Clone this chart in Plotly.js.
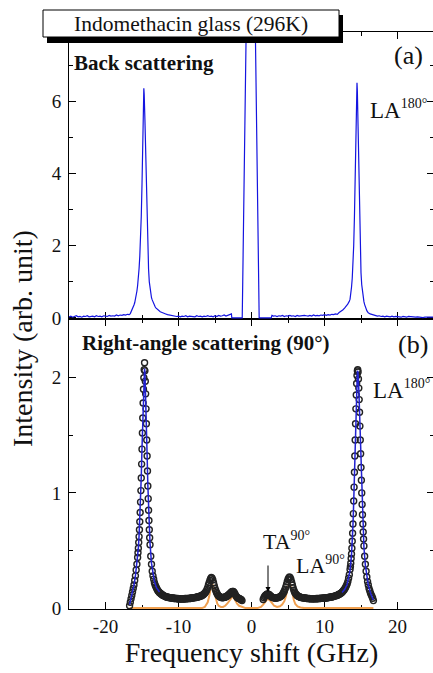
<!DOCTYPE html>
<html>
<head>
<meta charset="utf-8">
<script src="https://cdn.plot.ly/plotly-3.0.1.min.js"></script>
<style>
html,body{margin:0;padding:0;overflow:hidden;background:#fff;}
#chart{width:435px;height:673px;}
</style>
</head>
<body>
<div id="chart"></div>
<script>
// ---------- (a) Back scattering spectrum ----------
const xBack = [
-25,-24.75,-24.5,-24.25,-24,-23.75,-23.5,-23.25,-23,-22.75,-22.5,-22.25,-22,-21.75,-21.5,-21.25,-21,-20.75,-20.5,-20.25,-20,-19.75,-19.5,-19.25,-19,-18.75,-18.5,-18.25,-18,-17.75,-17.5,-17.25,-17,-16.75,
-16.6,-16.5,-16.4,-16.3,-16.2,-16.1,-16.0,-15.9,-15.8,-15.7,-15.6,-15.5,-15.4,-15.3,-15.2,-15.1,-15.0,-14.9,-14.8,-14.75,-14.7,-14.6,-14.5,-14.4,-14.3,-14.2,-14.1,-14.0,-13.9,-13.8,-13.7,-13.6,-13.5,-13.4,-13.3,-13.2,-13.1,-13.0,-12.9,-12.75,-12.5,-12.25,-12.0,-11.75,-11.5,-11.25,
-11,-10.75,-10.5,-10.25,-10,-9.75,-9.5,-9.25,-9,-8.75,-8.5,-8.25,-8,-7.75,-7.5,-7.25,-7,-6.75,-6.5,-6.25,-6,-5.75,-5.5,-5.25,-5,-4.75,-4.5,-4.25,-4,-3.75,-3.5,-3.25,-3,-2.75,
-2.7,-1.35,-1.27,-1.2,-1.1,-1.0,-0.9,-0.8,-0.7,-0.6,-0.5,0.3,0.4,0.5,0.6,0.7,0.8,0.9,1.0,1.05,2.7,2.8,
3.0,3.25,3.5,3.75,4,4.25,4.5,4.75,5,5.25,5.5,5.75,6,6.25,6.5,6.75,7,7.25,7.5,7.75,8,8.25,8.5,8.75,9,9.25,9.5,9.75,10,10.25,10.5,10.75,11,11.25,11.5,11.75,12,12.25,12.5,12.75,
12.9,13.0,13.1,13.2,13.3,13.4,13.5,13.6,13.7,13.8,13.9,14.0,14.1,14.2,14.3,14.4,14.45,14.5,14.6,14.7,14.8,14.9,15.0,15.1,15.2,15.3,15.4,15.5,15.6,15.7,15.8,15.9,16.0,16.25,16.5,16.75,
17,17.25,17.5,17.75,18,18.25,18.5,18.75,19,19.25,19.5,19.75,20,20.25,20.5,20.75,21,21.25,21.5,21.75,22,22.25,22.5,22.75,23,23.25,23.5,23.75,24,24.25,24.5,24.75,25
];
const yBack = [
0.03,0.05,0.02,0.04,0.06,0.03,0.04,0.02,0.05,0.04,0.06,0.03,0.04,0.05,0.03,0.06,0.04,0.05,0.03,0.06,0.05,0.04,0.07,0.05,0.06,0.05,0.08,0.06,0.08,0.07,0.09,0.08,0.1,0.09,
0.12,0.16,0.22,0.27,0.31,0.36,0.42,0.5,0.6,0.74,0.9,1.1,1.37,1.72,2.18,2.82,3.7,4.8,5.9,6.37,6.2,5.5,4.5,3.5,2.6,1.85,1.35,1.0,0.78,0.64,0.56,0.5,0.44,0.39,0.35,0.31,0.28,0.26,0.24,0.21,0.17,0.15,0.12,0.11,0.09,0.08,
0.07,0.05,0.06,0.04,0.05,0.03,0.05,0.04,0.06,0.03,0.05,0.04,0.05,0.03,0.06,0.04,0.05,0.03,0.05,0.04,0.06,0.04,0.05,0.03,0.06,0.04,0.07,0.05,0.06,0.08,0.05,0.07,0.09,0.11,
0.0,0.0,0.0,1.0,2.5,4.0,5.5,6.9,8.4,9.9,11.4,11.4,9.9,8.8,7.0,5.3,3.5,1.8,0.05,0.0,0.0,0.07,
0.05,0.06,0.04,0.06,0.05,0.07,0.04,0.06,0.05,0.07,0.05,0.06,0.04,0.07,0.05,0.06,0.05,0.07,0.06,0.05,0.07,0.05,0.08,0.06,0.07,0.06,0.08,0.07,0.09,0.07,0.09,0.08,0.1,0.09,0.11,0.1,0.15,0.18,0.22,0.27,
0.3,0.33,0.36,0.39,0.42,0.46,0.52,0.65,0.85,1.1,1.45,2.0,2.8,3.8,5.0,6.1,6.52,6.3,5.3,4.0,2.8,1.85,1.25,0.92,0.7,0.55,0.45,0.37,0.3,0.25,0.2,0.17,0.14,0.11,0.09,0.07,
0.06,0.05,0.06,0.04,0.05,0.03,0.05,0.04,0.03,0.05,0.03,0.04,0.03,0.04,0.02,0.04,0.03,0.02,0.04,0.03,0.02,0.03,0.02,0.03,0.02,0.03,0.01,0.02,0.03,0.02,0.02,0.03,0.02
];

// ---------- (b) Right-angle scattering: measured points ----------
const x90 = [
-16.7,-16.6,-16.5,-16.4,-16.3,-16.2,-16.1,-16.0,-15.9,-15.8,-15.7,-15.6,-15.55,-15.5,-15.45,-15.4,-15.35,-15.3,-15.25,-15.2,-15.15,-15.1,-15.05,-15.0,-14.95,-14.9,-14.85,-14.8,-14.75,-14.7,-14.65,-14.6,-14.55,-14.5,-14.45,-14.4,-14.35,-14.3,-14.25,-14.2,-14.15,-14.1,-14.05,-14.0,-13.95,-13.9,-13.8,-13.7,-13.6,-13.5,-13.4,-13.3,-13.2,-13.1,-13.0,-12.9,-12.8,-12.7,-12.6,-12.5,-12.4,-12.3,-12.2,-12.1,-12.0,-11.9,-11.8,-11.7,-11.6,-11.5,-11.4,-11.3,-11.2,-11.1,-11.0,-10.9,-10.8,-10.7,-10.6,-10.5,-10.4,-10.3,-10.2,-10.1,-10.0,-9.9,-9.8,-9.7,-9.6,-9.5,-9.4,-9.3,-9.2,-9.1,-9.0,-8.9,-8.8,-8.7,-8.6,-8.5,-8.4,-8.3,-8.2,-8.1,-8.0,-7.9,-7.8,-7.7,-7.6,-7.5,-7.4,-7.3,-7.2,-7.1,-7.0,-6.9,-6.8,-6.7,-6.6,-6.5,-6.4,-6.3,-6.2,-6.1,-6.0,-5.9,-5.8,-5.7,-5.6,-5.5,-5.4,-5.3,-5.2,-5.1,-5.0,-4.9,-4.8,-4.7,-4.6,-4.5,-4.4,-4.3,-4.2,-4.1,-4.0,-3.9,-3.8,-3.7,-3.6,-3.5,-3.4,-3.3,-3.2,-3.1,-3.0,-2.9,-2.8,-2.7,-2.6,-2.5,-2.4,-2.3,-2.2,-2.1,-2.0,-1.9,-1.8,-1.7,-1.6,-1.5,-1.4,-1.3,
1.6,1.7,1.8,1.9,2.0,2.1,2.2,2.3,2.4,2.5,2.6,2.7,2.8,2.9,3.0,3.1,3.2,3.3,3.4,3.5,3.6,3.7,3.8,3.9,4.0,4.1,4.2,4.3,4.4,4.5,4.6,4.7,4.8,4.9,5.0,5.1,5.2,5.3,5.4,5.5,5.6,5.7,5.8,5.9,6.0,6.1,6.2,6.3,6.4,6.5,6.6,6.7,6.8,6.9,7.0,7.1,7.2,7.3,7.4,7.5,7.6,7.7,7.8,7.9,8.0,8.1,8.2,8.3,8.4,8.5,8.6,8.7,8.8,8.9,9.0,9.1,9.2,9.3,9.4,9.5,9.6,9.7,9.8,9.9,10.0,10.1,10.2,10.3,10.4,10.5,10.6,10.7,10.8,10.9,11.0,11.1,11.2,11.3,11.4,11.5,11.6,11.7,11.8,11.9,12.0,12.1,12.2,12.3,12.4,12.5,12.6,12.7,12.8,12.9,13.0,13.1,13.2,13.3,13.4,13.5,13.55,13.6,13.65,13.7,13.75,13.8,13.85,13.9,13.95,14.0,14.05,14.1,14.15,14.2,14.25,14.3,14.35,14.4,14.45,14.5,14.55,14.6,14.65,14.7,14.75,14.8,14.85,14.9,14.95,15.0,15.05,15.1,15.15,15.2,15.25,15.3,15.35,15.4,15.5,15.6,15.7,15.8,15.9,16.0,16.1,16.2,16.3,16.4,16.5,16.6,16.7
];
const y90 = [
0.02,0.05,0.08,0.11,0.14,0.17,0.2,0.24,0.28,0.33,0.38,0.44,0.48,0.52,0.57,0.62,0.68,0.75,0.83,0.92,1.02,1.13,1.25,1.38,1.52,1.65,1.78,1.9,2.0,2.07,2.13,2.06,1.97,1.86,1.73,1.6,1.46,1.32,1.19,1.06,0.95,0.85,0.76,0.68,0.61,0.55,0.45,0.38,0.32,0.28,0.25,0.22,0.2,0.185,0.172,0.16,0.148,0.142,0.134,0.13,0.122,0.12,0.113,0.11,0.106,0.104,0.1,0.099,0.095,0.096,0.092,0.093,0.089,0.09,0.087,0.088,0.085,0.087,0.083,0.085,0.082,0.084,0.081,0.083,0.079,0.082,0.078,0.081,0.079,0.082,0.078,0.081,0.079,0.083,0.08,0.083,0.081,0.084,0.082,0.085,0.083,0.087,0.085,0.089,0.087,0.091,0.089,0.093,0.092,0.096,0.095,0.099,0.098,0.103,0.103,0.108,0.108,0.115,0.116,0.124,0.128,0.138,0.147,0.162,0.178,0.2,0.22,0.24,0.255,0.265,0.26,0.245,0.22,0.195,0.17,0.152,0.135,0.124,0.112,0.106,0.1,0.097,0.093,0.092,0.09,0.092,0.091,0.095,0.094,0.1,0.1,0.107,0.11,0.118,0.122,0.13,0.136,0.142,0.145,0.144,0.138,0.127,0.115,0.104,0.095,0.09,0.085,0.083,0.08,0.077,0.072,0.065,
0.075,0.09,0.1,0.11,0.115,0.12,0.122,0.121,0.118,0.112,0.105,0.1,0.095,0.093,0.09,0.089,0.087,0.088,0.087,0.09,0.089,0.093,0.094,0.099,0.102,0.108,0.115,0.124,0.135,0.148,0.165,0.184,0.205,0.228,0.248,0.262,0.27,0.264,0.248,0.225,0.2,0.176,0.155,0.14,0.128,0.12,0.112,0.108,0.102,0.1,0.096,0.095,0.092,0.091,0.089,0.089,0.087,0.087,0.085,0.085,0.083,0.084,0.082,0.083,0.081,0.082,0.08,0.082,0.08,0.081,0.08,0.082,0.081,0.083,0.081,0.083,0.082,0.084,0.083,0.085,0.084,0.086,0.085,0.087,0.086,0.088,0.088,0.09,0.09,0.092,0.092,0.094,0.094,0.096,0.097,0.099,0.1,0.102,0.104,0.106,0.108,0.11,0.113,0.116,0.12,0.123,0.128,0.132,0.138,0.144,0.152,0.16,0.17,0.181,0.195,0.21,0.23,0.26,0.29,0.335,0.36,0.39,0.43,0.47,0.52,0.58,0.65,0.73,0.82,0.93,1.05,1.18,1.32,1.46,1.6,1.73,1.85,1.95,2.02,2.06,2.07,2.05,1.99,1.91,1.81,1.7,1.58,1.46,1.34,1.22,1.11,1.0,0.9,0.81,0.73,0.66,0.6,0.54,0.45,0.38,0.32,0.27,0.23,0.2,0.17,0.15,0.13,0.115,0.1,0.085,0.065
];

// ---------- (b) fitted LA180 curve ----------
const xFitL = [-16.7,-16.5,-16.3,-16.1,-15.9,-15.7,-15.5,-15.4,-15.3,-15.2,-15.1,-15.0,-14.9,-14.8,-14.7,-14.65,-14.6,-14.5,-14.4,-14.3,-14.2,-14.1,-14.0,-13.9,-13.7,-13.5,-13.3,-13.0,-12.6];
const yFitL = [0.03,0.08,0.14,0.2,0.28,0.38,0.52,0.63,0.76,0.93,1.14,1.39,1.66,1.9,2.05,2.08,2.05,1.87,1.6,1.33,1.07,0.86,0.69,0.56,0.39,0.29,0.23,0.175,0.14];
const xFitR = [12.4,12.8,13.1,13.3,13.5,13.7,13.8,13.9,14.0,14.1,14.2,14.3,14.4,14.5,14.55,14.6,14.7,14.8,14.9,15.0,15.1,15.2,15.3,15.4,15.6,15.8,16.0,16.3,16.7];
const yFitR = [0.135,0.165,0.205,0.255,0.33,0.46,0.57,0.72,0.92,1.17,1.45,1.72,1.94,2.05,2.06,2.04,1.9,1.69,1.45,1.21,0.99,0.8,0.65,0.53,0.37,0.27,0.2,0.13,0.07];

// ---------- (b) fitted TA90 / LA90 components ----------
const xComp = [-16.7,-6.8,-6.4,-6.2,-6.0,-5.8,-5.6,-5.45,-5.3,-5.1,-4.9,-4.7,-4.5,-4.2,-3.9,-3.6,-3.3,-3.0,-2.8,-2.6,-2.4,-2.2,-2.0,-1.7,-1.3,-0.8,0.8,1.3,1.6,1.9,2.2,2.5,2.8,3.1,3.5,3.9,4.2,4.5,4.7,4.9,5.1,5.25,5.4,5.6,5.8,6.0,6.3,6.7,7.2,16.7];
const yComp = [0,0,0.01,0.025,0.05,0.1,0.17,0.22,0.2,0.14,0.08,0.04,0.02,0.01,0.01,0.02,0.04,0.07,0.09,0.1,0.09,0.065,0.04,0.02,0.008,0,0,0.01,0.03,0.06,0.08,0.07,0.04,0.02,0.01,0.015,0.03,0.06,0.1,0.16,0.21,0.22,0.19,0.13,0.07,0.035,0.015,0.005,0,0];

// ---------- axis ticks ----------
const xTickVals = [-20,-10,0,10,20];
const xTickText = ['-20','-10','0','10','20'];
const yTopTicks = [0,2,4,6];
const yBotTicks = [0,1,2];

// ---------- geometry (pixels) ----------
const W = 435, H = 673, ML = 69, MR = 1, MT = 32, MB = 64;
const PW = W - ML - MR, PH = H - MT - MB;
const split = (H - MB - 319) / PH;
const px = v => (v - ML) / PW;
const py = v => (H - MB - v) / PH;

const serif = 'Liberation Serif, Times New Roman, serif';
const axisCommon = {
  showline: true, linecolor: '#000', linewidth: 1, mirror: 'ticks',
  ticks: 'inside', ticklen: 7, tickwidth: 1, tickcolor: '#000',
  showgrid: false, zeroline: false, layer: 'below traces',
  tickfont: {family: serif, size: 19, color: '#111'}
};

const traces = [
  {x: xBack, y: yBack, xaxis: 'x2', yaxis: 'y2', type: 'scatter', mode: 'lines',
   line: {color: '#1414e0', width: 1.2}, hoverinfo: 'skip'},
  {x: xComp, y: yComp, xaxis: 'x', yaxis: 'y', type: 'scatter', mode: 'lines',
   line: {color: '#f0a050', width: 2}, hoverinfo: 'skip'},
  {x: x90, y: y90, xaxis: 'x', yaxis: 'y', type: 'scatter', mode: 'markers',
   marker: {symbol: 'circle-open', size: 6, color: '#222', line: {width: 1.4}}, hoverinfo: 'skip'},
  {x: xFitL, y: yFitL, xaxis: 'x', yaxis: 'y', type: 'scatter', mode: 'lines',
   line: {color: '#2222d0', width: 1.5}, hoverinfo: 'skip'},
  {x: xFitR, y: yFitR, xaxis: 'x', yaxis: 'y', type: 'scatter', mode: 'lines',
   line: {color: '#2222d0', width: 1.5}, hoverinfo: 'skip'}
];

const ann = (x, y, text, size, extra) => Object.assign({
  xref: 'paper', yref: 'paper', x: px(x), y: py(y), text: text, showarrow: false,
  xanchor: 'left', yanchor: 'middle', font: {family: serif, size: size, color: '#111'}
}, extra || {});
const sup = (base, s) => base + '<sup><span style="font-size:14px">' + s + '</span></sup>';

const layout = {
  width: W, height: H,
  margin: {l: ML, r: MR, t: MT, b: MB, pad: 0},
  paper_bgcolor: '#fff', plot_bgcolor: '#fff',
  showlegend: false,
  xaxis: Object.assign({}, axisCommon, {
    anchor: 'y', range: [-25, 25], tickvals: xTickVals, ticktext: xTickText,
    minor: {tickvals: [-15, -5, 5, 15], ticks: 'inside', ticklen: 4, tickcolor: '#000'},
    title: {text: 'Frequency shift (GHz)', font: {family: serif, size: 28, color: '#111'}, standoff: 3}
  }),
  xaxis2: Object.assign({}, axisCommon, {
    anchor: 'y2', range: [-25, 25], tickvals: xTickVals, showticklabels: false,
    minor: {tickvals: [-15, -5, 5, 15], ticks: 'inside', ticklen: 4, tickcolor: '#000'}
  }),
  yaxis: Object.assign({}, axisCommon, {
    anchor: 'x', domain: [0, split], range: [-0.008, 2.51], tickvals: yBotTicks, ticklabelstandoff: 3,
    minor: {tickvals: [0.5, 1.5], ticks: 'inside', ticklen: 4, tickcolor: '#000'}
  }),
  yaxis2: Object.assign({}, axisCommon, {
    anchor: 'x2', domain: [split, 1], range: [-0.03, 7.93], tickvals: yTopTicks, ticklabelstandoff: 3,
    minor: {tickvals: [1, 3, 5, 7], ticks: 'inside', ticklen: 4, tickcolor: '#000'}
  }),
  shapes: [
    {type: 'rect', xref: 'paper', yref: 'paper', x0: px(47), x1: px(343), y0: py(43), y1: py(15),
     fillcolor: '#000', line: {width: 0}, layer: 'above'},
    {type: 'rect', xref: 'paper', yref: 'paper', x0: px(43), x1: px(339), y0: py(37), y1: py(10),
     fillcolor: '#fff', line: {color: '#000', width: 1}, layer: 'above'}
  ],
  annotations: [
    ann(191, 24, 'Indomethacin glass (296K)', 21.5, {xanchor: 'center'}),
    ann(72, 63, '<b>Back scattering</b>', 21),
    ann(392, 55, '(a)', 26),
    ann(368, 110, sup('LA', '180°'), 23),
    ann(80, 343, '<b>Right-angle scattering (90°)</b>', 21),
    ann(396, 344, '(b)', 26),
    ann(371, 389, sup('LA', '180°'), 23),
    ann(261, 541, sup('TA', '90°'), 22),
    ann(294, 565, sup('LA', '90°'), 22),
    {xref: 'paper', yref: 'paper', x: px(268), y: py(592), text: '', showarrow: true,
     ax: 0, ay: -28, arrowhead: 2, arrowsize: 1, arrowwidth: 1, arrowcolor: '#000', standoff: 0},
    ann(22, 339, 'Intensity (arb. unit)', 28, {xanchor: 'center', textangle: -90})
  ]
};

Plotly.newPlot('chart', traces, layout, {staticPlot: true, displayModeBar: false});
</script>
</body>
</html>
